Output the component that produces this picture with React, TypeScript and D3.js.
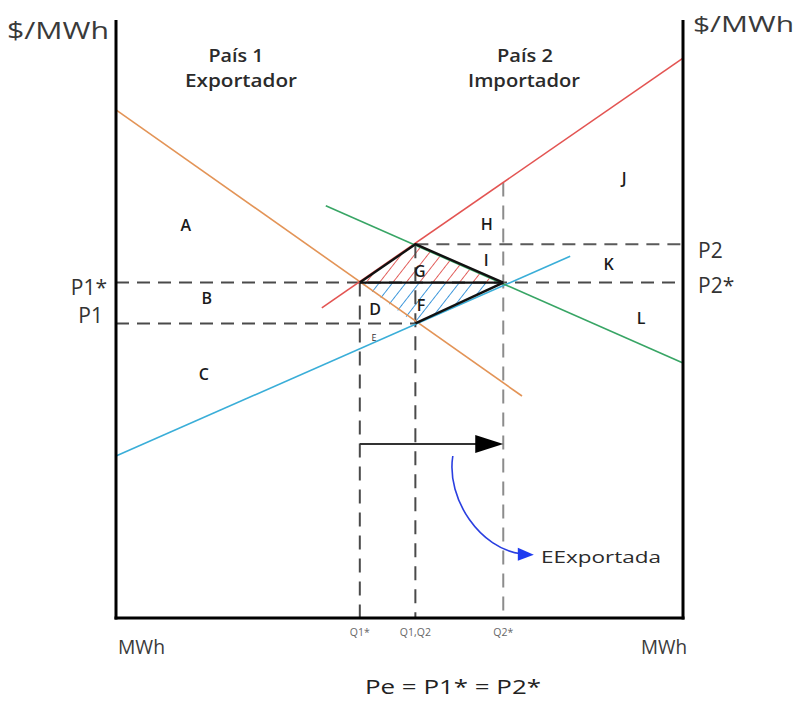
import React from "react";
import * as d3 from "d3";

const WIDTH = 797;
const HEIGHT = 701;

// Curves on a 0–100 index scale: [quantity, price] end points
const demandPais1: [number, number][] = [[0, 84.7], [71.6, 37.0]];
const supplyPais1: [number, number][] = [[0, 27.0], [80.1, 60.3]];
const supplyPais2: [number, number][] = [[36.3, 51.7], [100, 93.3]];
const demandPais2: [number, number][] = [[37.0, 68.7], [100, 42.5]];

// Quantities on the horizontal axis
const qLabels = ["Q1*", "Q1,Q2", "Q2*"];
const qValues = [43.0, 52.8, 68.3];

// Prices: equilibrium with trade and autarky prices
const pe = 55.9;
const p1 = 49.1;
const p2 = 62.3;

// Surplus area letters
const areaLetters = ["A", "B", "C", "D", "F", "G", "H", "I", "J", "K", "L"];
const areaQ = [12.3, 16.0, 15.5, 45.7, 53.8, 53.6, 65.4, 65.3, 89.6, 86.9, 92.6];
const areaP = [65.5, 53.3, 40.7, 51.5, 52.2, 57.8, 65.7, 59.7, 73.3, 59.0, 50.0];

// Energy flow arrow level and exported-energy annotation path
const flowPrice = 29.0;
const exportCurve: [number, number][] = [[59.4, 27.0], [58.2, 19.7], [64.4, 11.5], [71.4, 10.7]];

const x = d3.scaleLinear().domain([0, 100]).range([116, 683]);
const y = d3.scaleLinear().domain([0, 100]).range([618, 18]);

const lineGen = d3.line<[number, number]>().x((d) => x(d[0])).y((d) => y(d[1]));

const FONT = "'Open Sans', 'DejaVu Sans', sans-serif";
const TEXT = "#2b2b2b";
const DASH = "#4a4a4a";

function priceOn(seg: [number, number][], q: number) {
  const [[q0, v0], [q1, v1]] = seg;
  return v0 + ((v1 - v0) * (q - q0)) / (q1 - q0);
}

export default function App() {
  const [q1s, q12, q2s] = qValues;
  const left: [number, number] = [q1s, pe];
  const top: [number, number] = [q12, p2];
  const right: [number, number] = [q2s, pe];
  const bottom: [number, number] = [q12, p1];
  const upperTri = [left, top, right];
  const lowerTri = [left, bottom, right];
  const triPath = (pts: [number, number][]) => lineGen(pts)! + "Z";

  const q2sTop = priceOn(supplyPais2, q2s);

  const dashH = "13 8";
  const dashV = "14 9";

  const flowY = y(flowPrice);
  const tip = x(q2s);

  const exportPath = `M${x(exportCurve[0][0])},${y(exportCurve[0][1])} C${x(exportCurve[1][0])},${y(exportCurve[1][1])} ${x(exportCurve[2][0])},${y(exportCurve[2][1])} ${x(exportCurve[3][0])},${y(exportCurve[3][1])}`;
  const eEnd = [x(exportCurve[3][0]), y(exportCurve[3][1])];

  return (
    <svg
      width={WIDTH}
      height={HEIGHT}
      style={{ position: "absolute", left: 0, top: 0, background: "#fff" }}
      fontFamily={FONT}
    >
      <defs>
        <pattern id="hatchRed" patternUnits="userSpaceOnUse" width="10.5" height="10.5" patternTransform="rotate(38)">
          <line x1="0" y1="0" x2="0" y2="10.5" stroke="#e0534f" strokeWidth="1.8" />
        </pattern>
        <pattern id="hatchBlue" patternUnits="userSpaceOnUse" width="10.5" height="10.5" patternTransform="rotate(38)">
          <line x1="0" y1="0" x2="0" y2="10.5" stroke="#2f8fd8" strokeWidth="1.8" />
        </pattern>
      </defs>

      {/* hatched welfare triangles */}
      <path d={triPath(upperTri)} fill="url(#hatchRed)" />
      <path d={triPath(lowerTri)} fill="url(#hatchBlue)" />

      {/* dashed reference lines */}
      <g fill="none" strokeWidth={2}>
        <line x1={x(0)} x2={x(100)} y1={y(pe)} y2={y(pe)} stroke={DASH} strokeDasharray={dashH} />
        <line x1={x(0)} x2={x(q12)} y1={y(p1)} y2={y(p1)} stroke={DASH} strokeDasharray={dashH} />
        <line x1={x(q12)} x2={x(100)} y1={y(p2)} y2={y(p2)} stroke="#5a5a5a" strokeDasharray={dashH} />
        <line x1={x(q1s)} x2={x(q1s)} y1={y(pe)} y2={y(0)} stroke={DASH} strokeDasharray={dashV} />
        <line x1={x(q12)} x2={x(q12)} y1={y(p2)} y2={y(0)} stroke={DASH} strokeDasharray={dashV} />
        <line x1={x(q2s)} x2={x(q2s)} y1={y(q2sTop)} y2={y(0)} stroke="#8c8c8c" strokeDasharray={dashV} />
      </g>

      {/* supply and demand curves */}
      <g fill="none" strokeWidth={1.6}>
        <path d={lineGen(demandPais1)!} stroke="#e39457" />
        <path d={lineGen(supplyPais1)!} stroke="#3aaed8" />
        <path d={lineGen(supplyPais2)!} stroke="#e35452" />
        <path d={lineGen(demandPais2)!} stroke="#38a565" />
      </g>

      {/* triangle outlines */}
      <g fill="none" stroke="#111" strokeWidth={2.4} strokeLinejoin="round">
        <path d={lineGen([left, top, right])!} />
        <path d={lineGen([left, right])!} />
        <path d={lineGen([bottom, right])!} />
      </g>

      {/* axes */}
      <g stroke="#000" strokeWidth={3}>
        <line x1={x(0)} x2={x(0)} y1={20} y2={y(0) + 1.5} />
        <line x1={x(100)} x2={x(100)} y1={20} y2={y(0) + 1.5} />
        <line x1={x(0) - 1.5} x2={x(100) + 1.5} y1={y(0)} y2={y(0)} />
      </g>

      {/* energy flow arrow */}
      <line x1={x(q1s)} x2={tip - 26} y1={flowY} y2={flowY} stroke="#333" strokeWidth={2} />
      <path d={`M${tip - 28},${flowY - 9} L${tip},${flowY} L${tip - 28},${flowY + 9} Z`} fill="#000" />

      {/* exported energy annotation */}
      <path d={exportPath} fill="none" stroke="#2a3fe0" strokeWidth={1.6} />
      <path d={`M${eEnd[0] - 3},${eEnd[1] - 6} L${eEnd[0] + 13},${eEnd[1] + 1} L${eEnd[0] - 3},${eEnd[1] + 7} Z`} fill="#1f3cf0" />
      <text x={541} y={563} fontSize={17} fill={TEXT} textLength={120} lengthAdjust="spacingAndGlyphs">EExportada</text>

      {/* axis titles */}
      <text x={7} y={39} fontSize={23} fill="#3a3a3a" textLength={102} lengthAdjust="spacingAndGlyphs">$/MWh</text>
      <text x={693} y={32} fontSize={22} fill="#3a3a3a" textLength={101} lengthAdjust="spacingAndGlyphs">$/MWh</text>
      <text x={118} y={654} fontSize={20} fill="#3a3a3a" textLength={47} lengthAdjust="spacingAndGlyphs">MWh</text>
      <text x={641} y={654} fontSize={20} fill="#3a3a3a" textLength={46} lengthAdjust="spacingAndGlyphs">MWh</text>

      {/* country headers */}
      <g fontSize={18} fontWeight={600} fill={TEXT} textAnchor="middle">
        <text x={236} y={62} textLength={55} lengthAdjust="spacingAndGlyphs">País 1</text>
        <text x={241} y={87} textLength={112} lengthAdjust="spacingAndGlyphs">Exportador</text>
        <text x={525} y={62} textLength={56} lengthAdjust="spacingAndGlyphs">País 2</text>
        <text x={524} y={87} textLength={112} lengthAdjust="spacingAndGlyphs">Importador</text>
      </g>

      {/* price labels */}
      <g fontSize={21} fill="#333">
        <text x={107} y={295} textAnchor="end">P1*</text>
        <text x={103} y={323} textAnchor="end">P1</text>
        <text x={698} y={258}>P2</text>
        <text x={698} y={293}>P2*</text>
      </g>

      {/* quantity labels */}
      <g fontSize={10.5} fill="#666" textAnchor="middle">
        {qLabels.map((lab, i) => (
          <text key={lab} x={x(qValues[i])} y={636}>{lab}</text>
        ))}
      </g>

      {/* area letters */}
      <g fontSize={16} fontWeight={600} fill="#1a1a1a" textAnchor="middle" dominantBaseline="central">
        {areaLetters.map((l, i) => (
          <text key={l} x={x(areaQ[i])} y={y(areaP[i])}>{l}</text>
        ))}
      </g>
      <text x={x(45.5)} y={y(46.8)} fontSize={9} fill="#333" textAnchor="middle" dominantBaseline="central">E</text>

      {/* equilibrium price note */}
      <text x={453} y={694} fontSize={20} fill="#222" textAnchor="middle" textLength={176} lengthAdjust="spacingAndGlyphs">Pe = P1* = P2*</text>
    </svg>
  );
}
